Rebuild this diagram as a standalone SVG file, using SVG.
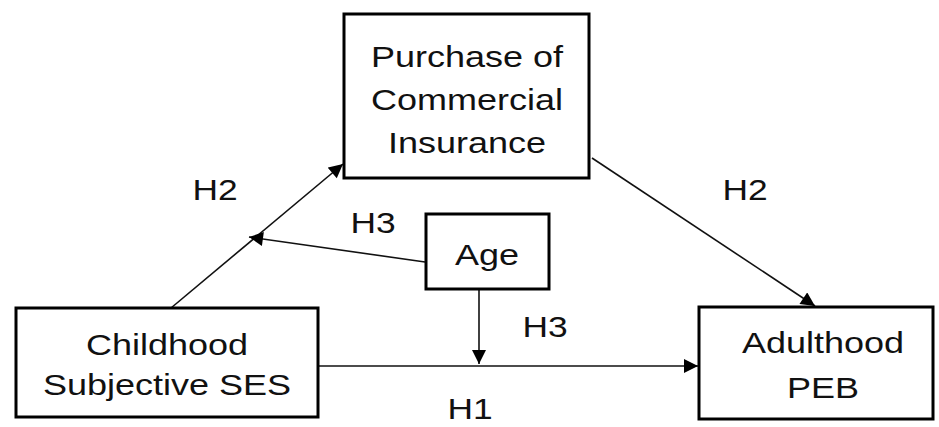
<svg xmlns="http://www.w3.org/2000/svg" width="939" height="427" viewBox="0 0 939 427">
<style>
.box{fill:#fff;stroke:#000;stroke-width:3}
.t{font-family:"Liberation Sans",Arial,sans-serif;font-size:30px;fill:#111;text-anchor:middle}
.l{font-family:"Liberation Sans",Arial,sans-serif;font-size:29px;fill:#111;text-anchor:middle}
.c{stroke:#111;stroke-width:1.6;fill:none;marker-end:url(#ah)}
</style>
<defs>
<marker id="ah" viewBox="0 0 10 10" refX="10" refY="5" markerWidth="15" markerHeight="14" markerUnits="userSpaceOnUse" orient="auto">
<path d="M0,0 L10,5 L0,10 z" fill="#000"/>
</marker>
</defs>
<g id="connectors">
<line class="c" x1="171" y1="308" x2="343" y2="164"/>
<line class="c" x1="592" y1="158" x2="815" y2="306"/>
<line class="c" x1="425" y1="262" x2="249" y2="237"/>
<line class="c" x1="479" y1="289" x2="479" y2="364"/>
<line class="c" x1="318" y1="366" x2="698" y2="366"/>
<text class="l" transform="translate(215,200) scale(1.22,1)">H2</text>
<text class="l" transform="translate(373,233) scale(1.22,1)">H3</text>
<text class="l" transform="translate(745,200) scale(1.22,1)">H2</text>
<text class="l" transform="translate(545,337) scale(1.22,1)">H3</text>
<text class="l" transform="translate(470,419) scale(1.22,1)">H1</text>
</g>
<g id="purchase">
<rect class="box" x="344" y="14" width="245" height="164"/>
<text class="t" transform="translate(467,67) scale(1.2,1)">Purchase of</text>
<text class="t" transform="translate(467,110) scale(1.2,1)">Commercial</text>
<text class="t" transform="translate(467,153) scale(1.2,1)">Insurance</text>
</g>
<g id="childhood">
<rect class="box" x="16" y="308" width="302" height="109"/>
<text class="t" transform="translate(167,355) scale(1.2,1)">Childhood</text>
<text class="t" transform="translate(167,395) scale(1.2,1)">Subjective SES</text>
</g>
<g id="age">
<rect class="box" x="426" y="214" width="123" height="75"/>
<text class="t" transform="translate(487,265) scale(1.2,1)">Age</text>
</g>
<g id="adulthood">
<rect class="box" x="699" y="307" width="234" height="112"/>
<text class="t" transform="translate(823,353) scale(1.2,1)">Adulthood</text>
<text class="t" transform="translate(823,398) scale(1.2,1)">PEB</text>
</g>
</svg>
